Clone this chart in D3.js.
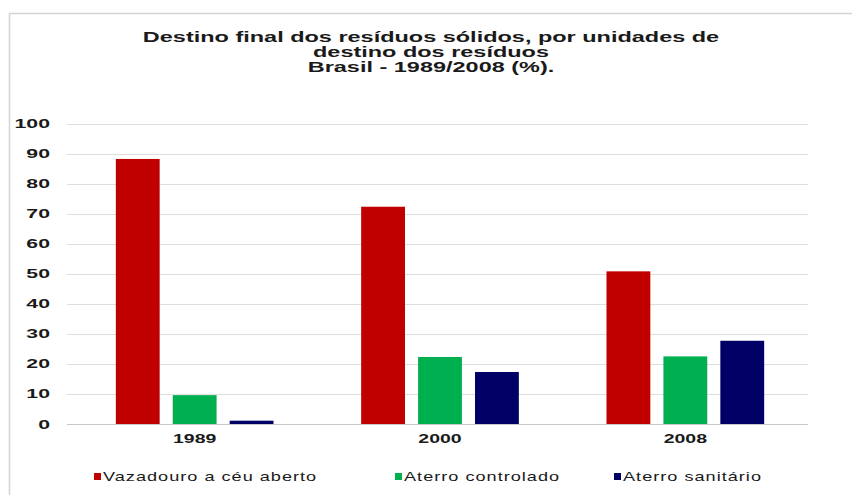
<!DOCTYPE html>
<html><head><meta charset="utf-8">
<script src="https://cdn.jsdelivr.net/npm/d3@7"></script>
<style>body{margin:0;background:#fff}svg{display:block}</style>
</head><body>
<svg id="c" width="852" height="495"></svg>
<script>
const categories = ["1989", "2000", "2008"];
const seriesNames = ["Vazadouro a céu aberto", "Aterro controlado", "Aterro sanitário"];
const vazadouro = [88.2, 72.3, 50.8];
const controlado = [9.6, 22.3, 22.5];
const sanitario = [1.1, 17.3, 27.7];
const yTicks = [0, 10, 20, 30, 40, 50, 60, 70, 80, 90, 100];
const titleLines = ["Destino final dos resíduos sólidos, por unidades de", "destino dos resíduos", "Brasil - 1989/2008 (%)."];
const colors = ["#c00000", "#00b050", "#000066"];

const series = [vazadouro, controlado, sanitario];
const svg = d3.select("#c");
const font = "Liberation Sans, Arial, sans-serif";

// frame
svg.append("path").attr("d", "M9.5,495 V13.5 H852").attr("fill", "none")
  .attr("stroke", "#d4d4d4").attr("stroke-width", 1.5);

function stretchText(g, x, y, txt, size, weight, sx, anchor) {
  return g.append("text")
    .attr("transform", `translate(${x},${y}) scale(${sx},1)`)
    .attr("text-anchor", anchor)
    .attr("font-family", font).attr("font-size", size).attr("font-weight", weight)
    .attr("fill", "#1a1a1a").text(txt);
}

// title
titleLines.forEach((t, i) => stretchText(svg, 431, 42 + i * 15, t, 14.5, "bold", 1.62, "middle"));

const x0 = d3.scaleBand().domain(categories).range([72, 808]).paddingInner(0).paddingOuter(0);
const x1 = d3.scaleBand().domain(d3.range(3)).range([0, x0.bandwidth()]).paddingInner(0.23).paddingOuter(0.77);
const y = d3.scaleLinear().domain([0, 100]).range([424, 123.5]);

// gridlines
svg.append("g").selectAll("line").data(yTicks).join("line")
  .attr("x1", 67).attr("x2", 808)
  .attr("y1", d => Math.round(y(d)) + 0.5).attr("y2", d => Math.round(y(d)) + 0.5)
  .attr("stroke", d => d === 0 ? "#c8c8c8" : "#dedede").attr("stroke-width", 1);

// y tick labels
const yl = svg.append("g");
yTicks.forEach(t => stretchText(yl, 50, y(t) + 4.5, String(t), 12.5, "bold", 1.7, "end"));

// bars
const groups = svg.append("g").selectAll("g").data(categories).join("g")
  .attr("transform", d => `translate(${x0(d)},0)`);
groups.selectAll("rect").data((d, i) => series.map((s, k) => ({k, v: s[i]}))).join("rect")
  .attr("x", d => x1(d.k)).attr("width", x1.bandwidth())
  .attr("y", d => y(d.v)).attr("height", d => y(0) - y(d.v))
  .attr("fill", d => colors[d.k]);

// x labels
const xl = svg.append("g");
categories.forEach(c => stretchText(xl, x0(c) + x0.bandwidth() / 2, 443, c, 13, "bold", 1.5, "middle"));

// legend
const legX = [94, 395, 614];
const lg = svg.append("g");
seriesNames.forEach((n, i) => {
  lg.append("rect").attr("x", legX[i]).attr("y", 473).attr("width", 7).attr("height", 7).attr("fill", colors[i]);
  stretchText(lg, legX[i] + 9, 481, n, 12.5, "normal", 1.45, "start").attr("letter-spacing", 0.7);
});
</script>
</body></html>
